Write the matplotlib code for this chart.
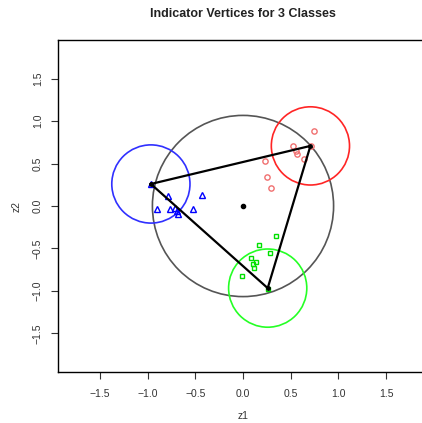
import matplotlib
matplotlib.use("Agg")
import matplotlib.pyplot as plt
from matplotlib.patches import Ellipse

plt.rcParams['font.family'] = ['Liberation Sans', 'DejaVu Sans']

# class 1 (blue triangles)
blue_x = [-0.970, -0.783, -0.430, -0.904, -0.765, -0.718, -0.695, -0.678, -0.521]
blue_y = [0.255, 0.118, 0.132, -0.031, -0.036, -0.027, -0.059, -0.092, -0.036]
# class 2 (red circles)
red_x = [0.747, 0.521, 0.713, 0.559, 0.569, 0.643, 0.231, 0.255, 0.294]
red_y = [0.882, 0.702, 0.711, 0.647, 0.612, 0.558, 0.529, 0.338, 0.212]
# class 3 (green squares)
green_x = [0.343, 0.173, 0.285, 0.084, 0.133, 0.110, 0.115, -0.014, 0.257]
green_y = [-0.348, -0.454, -0.556, -0.615, -0.655, -0.678, -0.725, -0.828, -0.974]

# indicator vertices: blue, red, green
vert_x = [-0.966, 0.707, 0.259]
vert_y = [0.259, 0.707, -0.966]
vert_cols = ['#3030ff', '#ff2525', '#25ff25']

big_radius = 0.95
small_radius = 0.41

xticks = [-1.5, -1.0, -0.5, 0.0, 0.5, 1.0, 1.5]
yticks = [-1.5, -1.0, -0.5, 0.0, 0.5, 1.0, 1.5]


def fmt(t):
    return ('%.1f' % t).replace('-', '\u2212')


W, H = 422, 423
fig = plt.figure(figsize=(W / 100, H / 100), dpi=100)
# right edge of the box runs past the image, like the reference crop
ax = fig.add_axes([58 / W, (H - 372) / H, 370 / W, 332 / H])
ax.set_xlim(-1.94, 1.94)
ax.set_ylim(-1.953, 1.953)

# circles are round on screen, so scale the y radius by the axes aspect
bb = ax.get_window_extent()
px_x = bb.width / 3.88
px_y = bb.height / 3.906
ratio = px_x / px_y


def draw_circle(cx, cy, r, col, lw):
    e = Ellipse((cx, cy), 2 * r, 2 * r * ratio, fill=False, edgecolor=col,
                linewidth=lw, zorder=2)
    ax.add_patch(e)


ax.plot(blue_x, blue_y, linestyle='none', marker='^', markersize=5,
        markerfacecolor='none', markeredgecolor='#0000ff', markeredgewidth=1.0, zorder=3)
ax.plot(red_x, red_y, linestyle='none', marker='o', markersize=3.8,
        markerfacecolor='none', markeredgecolor='#f07070', markeredgewidth=1.0, zorder=3)
ax.plot(green_x, green_y, linestyle='none', marker='s', markersize=3.5,
        markerfacecolor='none', markeredgecolor='#00e000', markeredgewidth=1.0, zorder=3)

# triangle joining the vertices
tri_x = vert_x + [vert_x[0]]
tri_y = vert_y + [vert_y[0]]
ax.plot(tri_x, tri_y, color='black', linewidth=1.6, zorder=4)
ax.plot(vert_x, vert_y, linestyle='none', marker='o', markersize=2.5,
        color='black', zorder=5)
ax.plot([0], [0], linestyle='none', marker='o', markersize=3, color='black', zorder=5)

draw_circle(0, 0, big_radius, '#555555', 1.2)
for vx, vy, c in zip(vert_x, vert_y, vert_cols):
    draw_circle(vx, vy, small_radius, c, 1.2)

ax.set_xticks(xticks)
ax.set_yticks(yticks)
ax.set_xticklabels([fmt(t) for t in xticks])
ax.set_yticklabels([fmt(t) for t in yticks], rotation=90, va='center')
ax.tick_params(labelsize=7.5, length=5, width=0.8, color='#333333',
               labelcolor='#333333')
ax.tick_params(axis='x', pad=7)
ax.tick_params(axis='y', pad=6)
for s in ax.spines.values():
    s.set_linewidth(1.0)

ax.set_xlabel('z1', fontsize=7.5, labelpad=9, color='#333333')
ax.set_ylabel('z2', fontsize=7.5, labelpad=8, color='#333333')
fig.text(243 / W, 1 - 14 / H, 'Indicator Vertices for 3 Classes', ha='center',
         va='center', fontsize=9, fontweight='bold', color='#222222')

fig.savefig('out.png', dpi=100)
